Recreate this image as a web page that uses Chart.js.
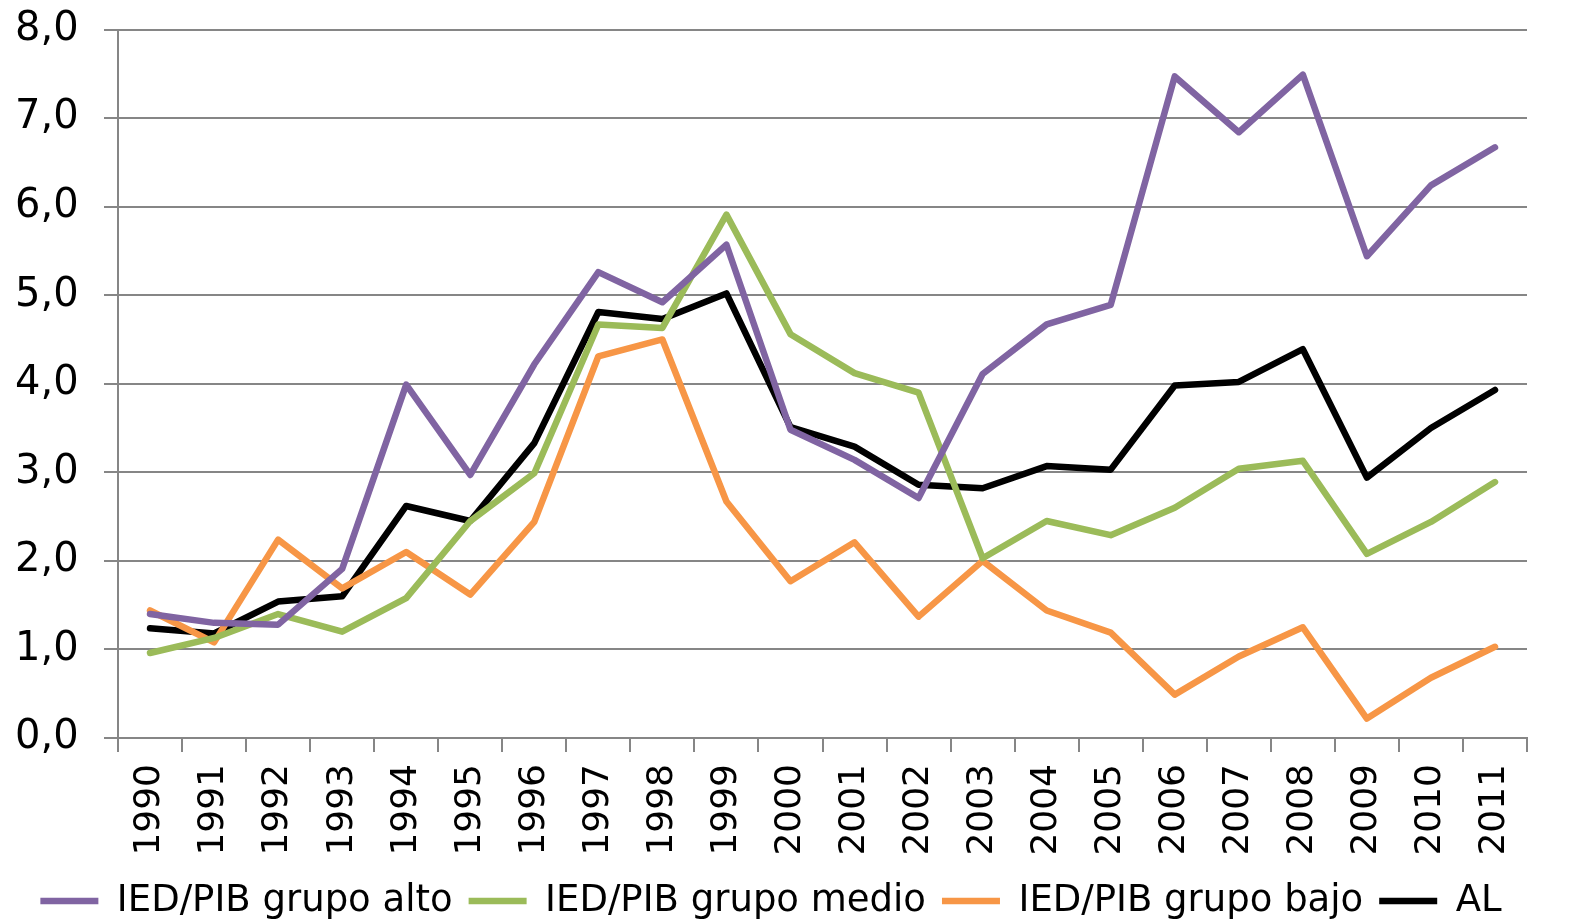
<!DOCTYPE html>
<html>
<head>
<meta charset="utf-8">
<script src="https://cdn.jsdelivr.net/npm/chart.js@4.4.1/dist/chart.umd.min.js"></script>
<style>
  html, body { margin: 0; padding: 0; background: #ffffff; }
  #wrap { width: 1578px; height: 923px; position: relative; }
</style>
</head>
<body>
<div id="wrap"><canvas id="c" width="1578" height="923"></canvas></div>
<script>
const categories = ['1990','1991','1992','1993','1994','1995','1996','1997','1998','1999','2000','2001','2002','2003','2004','2005','2006','2007','2008','2009','2010','2011'];
const grupoAlto  = [1.40,1.30,1.28,1.91,3.99,2.97,4.22,5.26,4.92,5.57,3.48,3.14,2.71,4.11,4.67,4.89,7.47,6.84,7.49,5.44,6.24,6.67];
const grupoMedio = [0.96,1.13,1.40,1.20,1.58,2.45,2.99,4.67,4.63,5.91,4.56,4.12,3.90,2.03,2.45,2.29,2.60,3.04,3.13,2.08,2.44,2.89];
const grupoBajo  = [1.44,1.08,2.24,1.69,2.10,1.62,2.44,4.31,4.50,2.67,1.77,2.21,1.37,2.00,1.44,1.19,0.49,0.92,1.25,0.22,0.68,1.03];
const al         = [1.24,1.18,1.54,1.60,2.62,2.45,3.33,4.81,4.73,5.02,3.51,3.29,2.86,2.82,3.07,3.03,3.98,4.02,4.39,2.94,3.50,3.93];
const seriesNames = ['IED/PIB grupo alto','IED/PIB grupo medio','IED/PIB grupo bajo','AL'];
const yTicks = [0,1,2,3,4,5,6,7,8];

const colors = ['#8064A2','#9BBB59','#F79646','#000000'];
const gridColor = '#868686';

function ds(label, data, color) {
  return {
    label, data,
    borderColor: color, backgroundColor: color,
    borderWidth: 6.5, pointRadius: 0, pointHoverRadius: 0,
    tension: 0, fill: false,
    borderJoinStyle: 'round', borderCapStyle: 'round',
    pointStyle: 'line'
  };
}

new Chart(document.getElementById('c'), {
  type: 'line',
  data: {
    labels: categories,
    datasets: [
      ds(seriesNames[0], grupoAlto, colors[0]),
      ds(seriesNames[1], grupoMedio, colors[1]),
      ds(seriesNames[2], grupoBajo, colors[2]),
      ds(seriesNames[3], al, colors[3])
    ]
  },
  options: {
    responsive: false,
    animation: false,
    devicePixelRatio: 1,
    layout: { padding: { left: 15, right: 51, top: 0, bottom: -6.5 } },
    plugins: {
      tooltip: { enabled: false },
      legend: {
        position: 'bottom',
        labels: {
          usePointStyle: true,
          pointStyle: 'line',
          pointStyleWidth: 58,
          padding: 16,
          color: '#000000',
          font: { family: 'DejaVu Sans', size: 37 }
        }
      }
    },
    scales: {
      x: {
        type: 'category',
        offset: true,
        grid: { display: true, drawOnChartArea: false, drawTicks: true, tickLength: 14, color: gridColor, lineWidth: 2, offset: true },
        border: { display: true, color: gridColor, width: 2 },
        ticks: {
          autoSkip: false, maxRotation: 90, minRotation: 90, padding: 12,
          color: '#000000', font: { family: 'DejaVu Sans', size: 36 }
        },
        afterFit: (s) => { s.height = 128.5; }
      },
      y: {
        min: 0, max: 8,
        afterBuildTicks: (s) => { s.ticks = yTicks.map(v => ({ value: v })); },
        grid: { color: gridColor, lineWidth: 2, drawTicks: true, tickLength: 14 },
        border: { display: true, color: gridColor, width: 2 },
        ticks: {
          padding: 5.5, crossAlign: 'far', color: '#000000',
          font: { family: 'DejaVu Sans', size: 40 },
          callback: (v) => Number(v).toFixed(1).replace('.', ',')
        },
        afterFit: (s) => { s.width = 103; }
      }
    }
  }
});
</script>
</body>
</html>
